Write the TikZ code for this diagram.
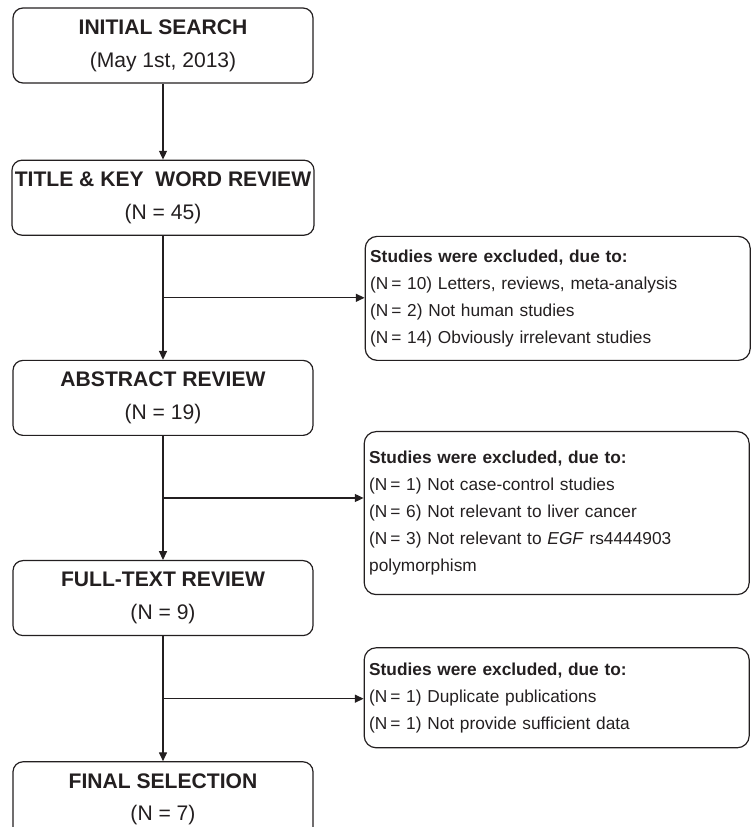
\documentclass[tikz,border=0pt]{standalone}
\usepackage{fontspec}
\setmainfont{Liberation Sans}
\usepackage{xcolor}
\usepackage{tikz}
\usetikzlibrary{arrows.meta, positioning, calc}
\definecolor{ink}{HTML}{231F20}

\begin{document}
\begin{tikzpicture}[
	color=ink,
	font=\fontsize{15}{23.4}\selectfont,
	node distance=3.1cm and 1.25cm,
	box/.style={
		draw,
		rectangle,
		rounded corners=0.25cm,
		align=center,
		minimum width=7.5cm,
		minimum height=1.875cm,
		line width=0.85pt,
		inner sep=2pt
	},
	sidebox/.style={
		draw,
		rectangle,
		rounded corners=0.3cm,
		align=left,
		text width=9.375cm,
		inner xsep=0.125cm,
		inner ysep=2pt,
		line width=0.85pt,
		font=\fontsize{12.3}{19.2}\selectfont
	},
	arrow/.style={-{Triangle[length=0.22cm, width=0.2cm]}, line width=0.85pt}
	]
	
	\useasboundingbox (0,0) rectangle (18.75,-20.675);
	
	% Cajas principales
	\node[box] (search) at (4.075,-1.1375) {\textbf{INITIAL SEARCH}\\(May 1st, 2013)};
	
	\node[box, below=1.9cm of search] (title) {\textbf{TITLE \& KEY\ \ WORD REVIEW}\\(N = 45)};
	
	\node[box, below=of title] (abstract) {\textbf{ABSTRACT REVIEW}\\(N = 19)};
	
	\node[box, below=of abstract] (fulltext) {\textbf{FULL-TEXT REVIEW}\\(N = 9)};
	
	\node[box, below=3.125cm of fulltext] (final) {\textbf{FINAL SELECTION}\\(N = 7)};
	
	% Cajas de exclusion
	\node[sidebox, minimum height=3.1cm, below right=0cm and 1.25cm of title.south east] (excl1) {\textbf{Studies were excluded, due to:}\\
		(N\,= 10) Letters, reviews, meta-analysis\\
		(N\,= 2) Not human studies\\
		(N\,= 14) Obviously irrelevant studies};
	
	\node[sidebox, minimum height=4.075cm, below right=-0.125cm and 1.25cm of abstract.south east] (excl2) {\textbf{Studies were excluded, due to:}\\
		(N\,= 1) Not case-control studies\\
		(N\,= 6) Not relevant to liver cancer\\
		(N\,= 3) Not relevant to \textit{EGF} rs4444903\\
		polymorphism};
	
	\node[sidebox, minimum height=2.5cm, below right=0.275cm and 1.25cm of fulltext.south east] (excl3) {\textbf{Studies were excluded, due to:}\\
		(N\,= 1) Duplicate publications\\
		(N\,= 1) Not provide sufficient data};
	
	% Puntos de salida
	\coordinate (m1) at ($(title.south)!0.5!(abstract.north)$);
	\coordinate (m2) at ($(abstract.south)!0.5!(fulltext.north)$);
	\coordinate (m3) at ($(fulltext.south)!0.5!(final.north)$);
	
	% Flechas
	\draw[arrow] (search) -- (title);
	\draw[arrow] (title) -- (abstract);
	\draw[arrow] (abstract) -- (fulltext);
	\draw[arrow] (fulltext) -- (final);
	
	\draw[arrow] (m1) -- (m1 -| excl1.west);
	\draw[arrow] (m2) -- (m2 -| excl2.west);
	\draw[arrow] (m3) -- (m3 -| excl3.west);
	
\end{tikzpicture}
\end{document}
